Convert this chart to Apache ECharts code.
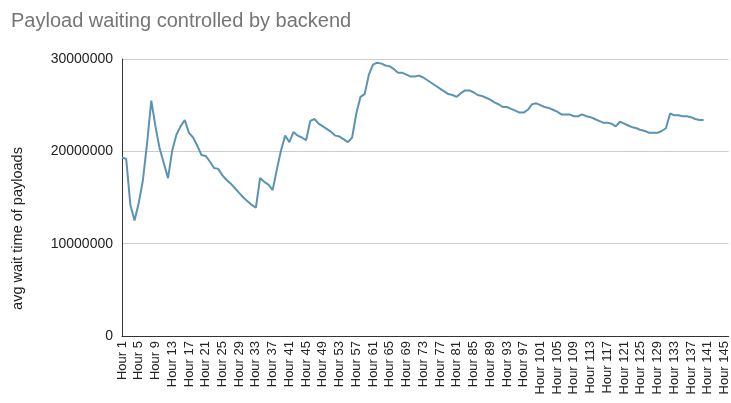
<!DOCTYPE html>
<html>
<head>
<meta charset="utf-8">
<script src="https://cdn.jsdelivr.net/npm/echarts@6/dist/echarts.min.js"></script>
<style>html,body{margin:0;padding:0;background:#fff}#c{width:731px;height:403px}</style>
</head>
<body>
<div id="c"></div>
<script>
var titleText = "Payload waiting controlled by backend";
var yAxisName = "avg wait time of payloads";
var categoryCount = 146;
var categories = [];
for (var i = 1; i <= categoryCount; i++) categories.push("Hour " + i);
// average wait time, millions
var waitMillions = [
19.3,19.2,14.2,12.5,14.4,16.9,20.9,25.5,22.7,20.3,
18.7,17.1,20.1,21.8,22.7,23.4,22.0,21.5,20.6,19.6,
19.5,18.9,18.2,18.1,17.4,16.9,16.5,16.0,15.5,15.0,
14.6,14.2,13.9,17.1,16.7,16.4,15.8,18.0,20.1,21.7,
21.0,22.1,21.7,21.5,21.2,23.3,23.5,23.0,22.7,22.4,
22.1,21.7,21.6,21.3,21.0,21.5,24.1,25.9,26.2,28.3,
29.4,29.6,29.5,29.3,29.2,28.9,28.5,28.5,28.3,28.1,
28.1,28.2,28.0,27.7,27.4,27.1,26.8,26.5,26.2,26.1,
25.9,26.3,26.6,26.6,26.4,26.1,26.0,25.8,25.6,25.3,
25.1,24.8,24.8,24.6,24.4,24.2,24.2,24.5,25.1,25.2,
25.0,24.8,24.7,24.5,24.3,24.0,24.0,24.0,23.8,23.8,
24.0,23.8,23.7,23.5,23.3,23.1,23.1,23.0,22.7,23.2,
23.0,22.8,22.6,22.5,22.3,22.2,22.0,22.0,22.0,22.2,
22.5,24.1,23.9,23.9,23.8,23.8,23.7,23.5,23.4,23.4
];
var waitValues = waitMillions.map(function(v){ return Math.round(v * 1000000); });
var yMin = 0, yMax = 30000000, yInterval = 10000000;
var font = 'Liberation Sans, Arial, sans-serif';

var chart = echarts.init(document.getElementById('c'));
chart.setOption({
  animation: false,
  title: {
    text: titleText, left: 6, top: 6,
    textStyle: { fontFamily: font, fontSize: 20, fontWeight: 'normal', color: '#757575' }
  },
  grid: { left: 122, right: 2, top: 59, bottom: 67, containLabel: false },
  xAxis: {
    type: 'category', data: categories, boundaryGap: false,
    axisLine: { lineStyle: { color: '#333', width: 1 } },
    axisTick: { show: false },
    axisLabel: { interval: 3, rotate: 90, color: '#222', fontSize: 13, margin: 5, fontFamily: font },
    splitLine: { show: false }
  },
  yAxis: {
    type: 'value', min: yMin, max: yMax, interval: yInterval,
    name: yAxisName, nameLocation: 'middle', nameGap: 97, nameRotate: 90,
    nameTextStyle: { color: '#222', fontSize: 14.5, fontFamily: font, padding: [0, 62, 0, 0] },
    axisLine: { show: true, lineStyle: { color: '#333', width: 1 } },
    axisTick: { show: false },
    axisLabel: { color: '#222', fontSize: 14, margin: 9, fontFamily: font,
      formatter: function(v){ return String(v); } },
    splitLine: { lineStyle: { color: '#cccccc', width: 1 } }
  },
  series: [{
    type: 'line', data: waitValues, showSymbol: false, symbol: 'none',
    lineStyle: { color: '#5b94b2', width: 2 }, itemStyle: { color: '#5b94b2' }
  }]
});
</script>
</body>
</html>
